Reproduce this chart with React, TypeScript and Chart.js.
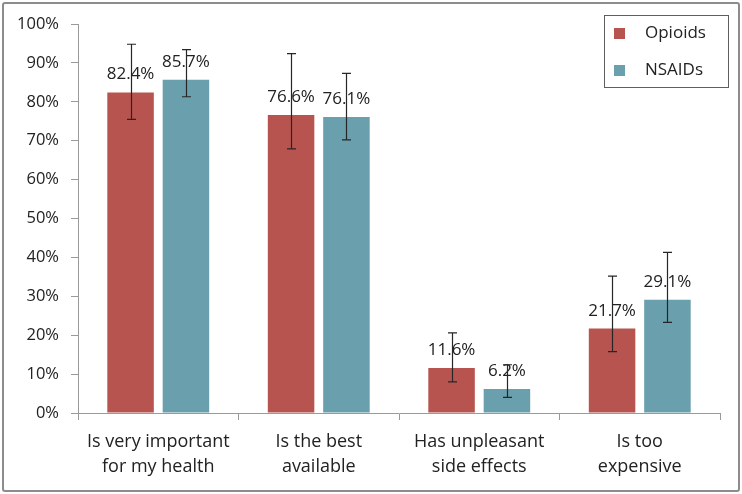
import React, { useEffect, useRef } from "react";
import { Chart, registerables } from "chart.js";

Chart.register(...registerables);

const categories: string[][] = [
  ["Is very important", "for my health"],
  ["Is the best", "available"],
  ["Has unpleasant", "side effects"],
  ["Is too", "expensive"],
];
const opioids = [82.4, 76.6, 11.6, 21.7];
const nsaids = [85.7, 76.1, 6.2, 29.1];
const opioidsLow = [75.5, 67.9, 8.0, 15.8];
const opioidsHigh = [94.8, 92.4, 20.6, 35.2];
const nsaidsLow = [81.3, 70.2, 4.0, 23.3];
const nsaidsHigh = [93.4, 87.3, 12.4, 41.3];
const yTicks = [0, 10, 20, 30, 40, 50, 60, 70, 80, 90, 100];

const RED = "#B8544F";
const TEAL = "#6A9FAD";
const TEXT = "#222222";
const AXIS = "#9a9a9a";

const errorLow = [opioidsLow, nsaidsLow];
const errorHigh = [opioidsHigh, nsaidsHigh];

const overlayPlugin = {
  id: "overlay",
  afterDatasetsDraw(chart: any) {
    const ctx = chart.ctx;
    const y = chart.scales.y;
    ctx.save();
    // data labels
    ctx.font = "17px 'Open Sans'";
    ctx.fillStyle = TEXT;
    ctx.textAlign = "center";
    ctx.textBaseline = "alphabetic";
    chart.data.datasets.forEach((ds: any, i: number) => {
      const meta = chart.getDatasetMeta(i);
      meta.data.forEach((bar: any, j: number) => {
        ctx.fillText(ds.data[j].toFixed(1) + "%", bar.x, bar.y - 13);
      });
    });
    // error bars
    ctx.strokeStyle = "#262626";
    ctx.lineWidth = 1.2;
    chart.data.datasets.forEach((ds: any, i: number) => {
      const meta = chart.getDatasetMeta(i);
      meta.data.forEach((bar: any, j: number) => {
        const x = Math.round(bar.x) + 0.5;
        const yl = y.getPixelForValue(errorLow[i][j]);
        const yh = y.getPixelForValue(errorHigh[i][j]);
        ctx.beginPath();
        ctx.moveTo(x, yl);
        ctx.lineTo(x, yh);
        ctx.moveTo(x - 4.5, yl);
        ctx.lineTo(x + 4.5, yl);
        ctx.moveTo(x - 4.5, yh);
        ctx.lineTo(x + 4.5, yh);
        ctx.stroke();
      });
    });
    // legend
    const lx = 604, ly = 15, lw = 124, lh = 72;
    ctx.strokeStyle = "#5e5e5e";
    ctx.lineWidth = 1;
    ctx.strokeRect(lx + 0.5, ly + 0.5, lw, lh);
    ctx.font = "17px 'Open Sans'";
    ctx.textAlign = "left";
    ctx.textBaseline = "middle";
    chart.data.datasets.forEach((ds: any, i: number) => {
      const cy = 33 + i * 37;
      ctx.fillStyle = ds.backgroundColor;
      ctx.fillRect(614, cy - 5, 11, 11);
      ctx.fillStyle = TEXT;
      ctx.fillText(ds.label, 645, cy);
    });
    ctx.restore();
  },
};

export default function App() {
  const ref = useRef<HTMLCanvasElement | null>(null);
  useEffect(() => {
    document.body.style.margin = "0";
    const canvas = ref.current!;
    const chart = new Chart(canvas, {
      type: "bar",
      data: {
        labels: categories as any,
        datasets: [
          { label: "Opioids", data: opioids, backgroundColor: RED, categoryPercentage: 0.69, barPercentage: 0.84 },
          { label: "NSAIDs", data: nsaids, backgroundColor: TEAL, categoryPercentage: 0.69, barPercentage: 0.84 },
        ],
      },
      options: {
        animation: false,
        responsive: false,
        devicePixelRatio: 1,
        layout: { padding: { top: 24, right: 22, left: 0, bottom: 0 } },
        plugins: { legend: { display: false }, tooltip: { enabled: false } },
        scales: {
          x: {
            afterFit: (s: any) => { s.height = 81; },
            grid: { display: true, drawOnChartArea: false, drawTicks: true, tickLength: 7, color: AXIS, offset: true },
            border: { color: AXIS },
            ticks: { color: TEXT, padding: 9, font: { family: "'Open Sans'", size: 18, lineHeight: "25px" } as any, maxRotation: 0 },
          },
          y: {
            min: 0,
            max: 100,
            afterFit: (s: any) => { s.width = 78; },
            afterBuildTicks: (s: any) => { s.ticks = yTicks.map((v) => ({ value: v })); },
            grid: { display: true, drawOnChartArea: false, drawTicks: true, tickLength: 7, color: AXIS },
            border: { color: AXIS },
            ticks: { color: TEXT, padding: 12, font: { family: "'Open Sans'", size: 16.5 }, callback: (v: any) => v + "%" },
          },
        },
      },
      plugins: [overlayPlugin],
    });
    return () => chart.destroy();
  }, []);
  return (
    <div style={{ position: "relative", width: 742, height: 494, background: "#fff" }}>
      <canvas ref={ref} width={742} height={494} style={{ position: "absolute", left: 0, top: 0, width: 742, height: 494 }} />
      <div style={{ position: "absolute", left: 2, top: 2, width: 734, height: 486, border: "2px solid #8c8c8c", borderRadius: 3, pointerEvents: "none" }} />
    </div>
  );
}
